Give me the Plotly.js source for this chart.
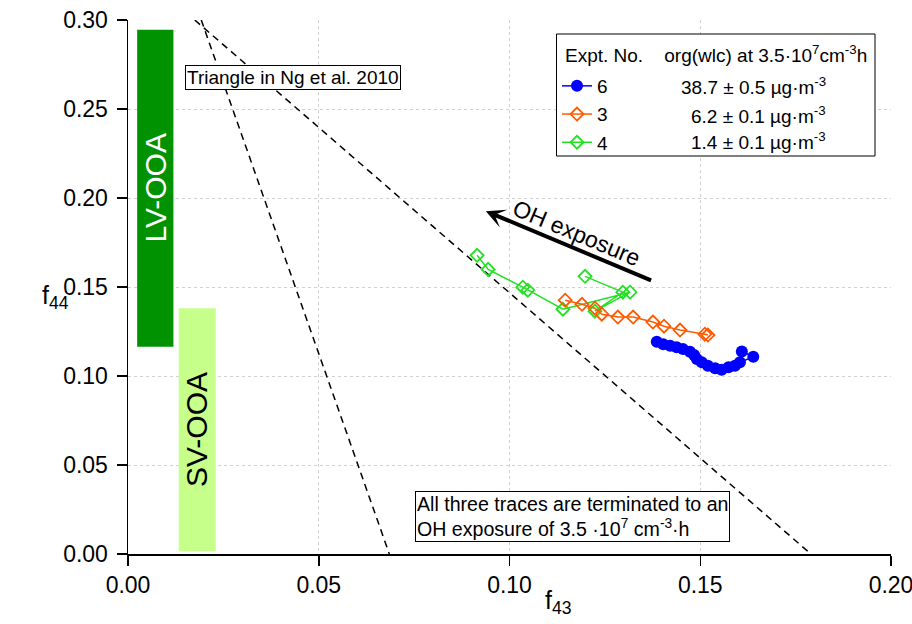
<!DOCTYPE html>
<html>
<head>
<meta charset="utf-8">
<script src="https://cdn.plot.ly/plotly-3.0.1.min.js"></script>
<style>html,body{margin:0;padding:0;background:#fff;}#chart{width:912px;height:624px;}</style>
</head>
<body>
<div id="chart"></div>
<script>
// ---- data ----
// Expt. 6 (blue, filled circles)
const f43_6 = [0.1609, 0.1639, 0.1604, 0.1591, 0.1574, 0.1556, 0.1539, 0.1520, 0.1504, 0.1491, 0.1484, 0.1473, 0.1455, 0.1438, 0.1421, 0.1403, 0.1386];
const f44_6 = [0.1138, 0.1108, 0.1077, 0.1058, 0.1049, 0.1035, 0.1043, 0.1058, 0.1077, 0.1095, 0.1118, 0.1136, 0.1151, 0.1161, 0.1170, 0.1179, 0.1192];
// Expt. 3 (orange, open diamonds)
const f43_3 = [0.1520, 0.1512, 0.1447, 0.1405, 0.1376, 0.1324, 0.1284, 0.1242, 0.1224, 0.1190, 0.1146];
const f44_3 = [0.1230, 0.1235, 0.1258, 0.1280, 0.1303, 0.1331, 0.1331, 0.1347, 0.1381, 0.1403, 0.1426];
// Expt. 4 (green, open diamonds)
const f43_4 = [0.1198, 0.1297, 0.1224, 0.1316, 0.1140, 0.1048, 0.1035, 0.0944, 0.0915];
const f44_4 = [0.1560, 0.1471, 0.1364, 0.1471, 0.1375, 0.1482, 0.1499, 0.1599, 0.1678];
// Triangle in Ng et al. 2010 (end points of the two dashed lines)
const ngLeftX = [0.0192, 0.0685];
const ngLeftY = [0.30, 0.0];
const ngRightX = [0.0175, 0.179];
const ngRightY = [0.30, 0.0];
// LV-OOA / SV-OOA regions
const regionNames = ['LV-OOA', 'SV-OOA'];
const regionX0 = [0.0024, 0.0133];
const regionX1 = [0.0119, 0.0230];
const regionY0 = [0.1164, 0.0016];
const regionY1 = [0.2945, 0.1380];
const regionColors = ['#009200', '#c6ff8a'];
const regionTextColors = ['#ffffff', '#000000'];
// OH exposure arrow (tail -> head)
const arrowTail = [0.1375, 0.1534];
const arrowHead = [0.0938, 0.1926];
// legend
const exptNo = ['6', '3', '4'];
const orgValues = ['38.7 ± 0.5 µg·m<sup>-3</sup>', '6.2 ± 0.1 µg·m<sup>-3</sup>', '1.4 ± 0.1 µg·m<sup>-3</sup>'];
const legendHeader = 'Expt. No.\u00a0\u00a0\u00a0\u00a0org(wlc) at 3.5·10<sup>7</sup>cm<sup>-3</sup>h';
// ticks
const xTickVals = [0, 0.05, 0.10, 0.15, 0.20];
const xTickText = ['0.00', '0.05', '0.10', '0.15', '0.20'];
const yTickVals = [0, 0.05, 0.10, 0.15, 0.20, 0.25, 0.30];
const yTickText = ['0.00', '0.05', '0.10', '0.15', '0.20', '0.25', '0.30'];

const FONT = 'Liberation Sans, Arial, sans-serif';

// plot-area pixel helpers for paper placement (plot area: x 128..891, y 20..554)
const PX = p => (p - 128) / 763;
const PY = p => (554 - p) / 534;

const dashStyle = {color: '#000', width: 1.5, dash: '7px,5px'};
const traces = [
  {x: ngLeftX, y: ngLeftY, mode: 'lines', line: dashStyle, showlegend: false, hoverinfo: 'skip'},
  {x: ngRightX, y: ngRightY, mode: 'lines', line: dashStyle, showlegend: false, hoverinfo: 'skip'},
  {x: f43_4, y: f44_4, name: exptNo[2], mode: 'lines+markers', legendrank: 3, legendgroup: 'c',
   line: {color: '#22e022', width: 1.5},
   marker: {symbol: 'diamond-open', size: 10, color: '#22e022', line: {width: 1.8}}},
  {x: f43_3, y: f44_3, name: exptNo[1], mode: 'lines+markers', legendrank: 2, legendgroup: 'b',
   line: {color: '#ff5a00', width: 1.5},
   marker: {symbol: 'diamond-open', size: 10, color: '#ff5a00', line: {width: 1.8}}},
  {x: f43_6, y: f44_6, name: exptNo[0], mode: 'lines+markers', legendrank: 1, legendgroup: 'a',
   line: {color: '#0000ff', width: 1.5},
   marker: {symbol: 'circle', size: 12, color: '#0000ff'}}
];

const shapes = regionNames.map((n, i) => ({
  type: 'rect', xref: 'x', yref: 'y', layer: 'between',
  x0: regionX0[i], x1: regionX1[i], y0: regionY0[i], y1: regionY1[i],
  fillcolor: regionColors[i], line: {width: 0}
}));
// legend frame
shapes.push({
  type: 'rect', xref: 'paper', yref: 'paper', layer: 'above',
  x0: PX(556.5), x1: PX(875), y0: PY(156), y1: PY(34),
  fillcolor: '#fff', line: {color: '#000', width: 1}
});

const annotations = [];
regionNames.forEach((n, i) => {
  annotations.push({
    x: (regionX0[i] + regionX1[i]) / 2, y: (regionY0[i] + regionY1[i]) / 2,
    xref: 'x', yref: 'y', text: n, showarrow: false, textangle: -90,
    font: {family: FONT, size: 30, color: regionTextColors[i]}
  });
});
annotations.push({
  x: 0.0432, y: 0.2679, xref: 'x', yref: 'y', text: 'Triangle in Ng et al. 2010',
  showarrow: false, bgcolor: '#fff', bordercolor: '#000', borderwidth: 1, borderpad: 1,
  font: {family: FONT, size: 19, color: '#000'}
});
annotations.push({
  x: 0.1166, y: 0.0209, xref: 'x', yref: 'y', align: 'left',
  text: 'All three traces are terminated to an<br>OH exposure of 3.5 ·10<sup>7</sup> cm<sup>-3</sup>·h',
  showarrow: false, bgcolor: '#fff', bordercolor: '#000', borderwidth: 1, borderpad: 1,
  font: {family: FONT, size: 19.6, color: '#000'}
});
annotations.push({
  x: arrowHead[0], y: arrowHead[1], ax: arrowTail[0], ay: arrowTail[1],
  xref: 'x', yref: 'y', axref: 'x', ayref: 'y', text: '', showarrow: true,
  arrowhead: 3, arrowsize: 0.8, arrowwidth: 4, arrowcolor: '#000', standoff: 0, startstandoff: 0
});
annotations.push({
  x: 0.1176, y: 0.1804, xref: 'x', yref: 'y', text: 'OH exposure', showarrow: false,
  textangle: 22.7, font: {family: FONT, size: 23, color: '#000'}
});
// axis titles
annotations.push({
  x: PX(55), y: PY(297), xref: 'paper', yref: 'paper', xanchor: 'center', yanchor: 'middle',
  text: 'f<sub>44</sub>', showarrow: false, font: {family: FONT, size: 25, color: '#000'}
});
annotations.push({
  x: PX(558), y: PY(602), xref: 'paper', yref: 'paper', xanchor: 'center', yanchor: 'middle',
  text: 'f<sub>43</sub>', showarrow: false, font: {family: FONT, size: 25, color: '#000'}
});
// legend header and values
annotations.push({
  x: PX(563), y: PY(54), xref: 'paper', yref: 'paper', xanchor: 'left', yanchor: 'middle',
  text: legendHeader, showarrow: false, font: {family: FONT, size: 19, color: '#000'}
});
const rowPix = [86, 114.5, 141];
orgValues.forEach((v, i) => {
  annotations.push({
    x: PX(828), y: PY(rowPix[i]), xref: 'paper', yref: 'paper', xanchor: 'right', yanchor: 'middle',
    text: v, showarrow: false, font: {family: FONT, size: 19, color: '#000'}
  });
});

const axisCommon = {
  showline: true, linecolor: '#000', linewidth: 1.5, mirror: false,
  ticks: 'outside', ticklen: 10, tickwidth: 1.5, tickcolor: '#000',
  showgrid: true, gridcolor: '#d0d0d0', gridwidth: 1, griddash: 'dot',
  zeroline: false, ticklabeloverflow: 'allow',
  tickfont: {family: FONT, size: 23, color: '#000'}
};

const layout = {
  width: 912, height: 624,
  margin: {l: 128, r: 21, t: 20, b: 70},
  paper_bgcolor: '#fff', plot_bgcolor: '#fff',
  font: {family: FONT, color: '#000'},
  xaxis: Object.assign({}, axisCommon, {range: [0, 0.2], tickvals: xTickVals, ticktext: xTickText}),
  yaxis: Object.assign({}, axisCommon, {range: [0, 0.3], tickvals: yTickVals, ticktext: yTickText, ticklabelstandoff: 4}),
  showlegend: true,
  legend: {
    x: PX(557), y: PY(67), xanchor: 'left', yanchor: 'top',
    bgcolor: 'rgba(0,0,0,0)', borderwidth: 0, tracegroupgap: 0.5,
    font: {family: FONT, size: 19, color: '#000'},
    traceorder: 'grouped'
  },
  shapes: shapes,
  annotations: annotations
};

Plotly.newPlot('chart', traces, layout, {displayModeBar: false, staticPlot: true});
</script>
</body>
</html>
